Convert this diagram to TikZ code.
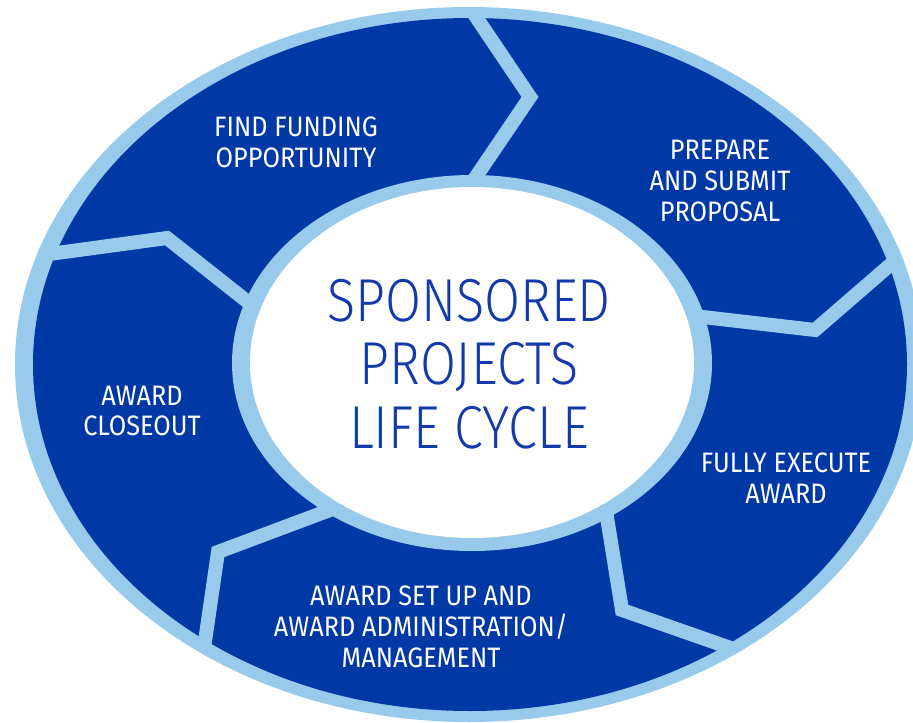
\documentclass[tikz,border=0pt]{standalone}
\usepackage{fontspec}
\setmainfont{Fira Sans}[FakeStretch=0.9]
\newfontfamily\titlefont{Fira Sans Light}[FakeStretch=0.86]
\usepackage{tikz}

\definecolor{ringblue}{RGB}{0,56,166}
\definecolor{edgeblue}{RGB}{152,202,236}
\definecolor{titleblue}{RGB}{18,58,170}

\tikzset{
  stagelabel/.style={text=white, align=center, font=\fontsize{16}{17.6}\selectfont},
  divider/.style={draw=edgeblue, line width=0.28cm},
}

\begin{document}
\begin{tikzpicture}[x=0.02cm, y=-0.02cm]
\useasboundingbox (0,0) rectangle (913,723);

% outer ring
\fill[edgeblue] (469,364.5) ellipse [x radius=454, y radius=357.5];
\fill[ringblue] (470,364.5) ellipse [x radius=437, y radius=346.5];

% chevron dividers
\begin{scope}
\clip (469,364.5) ellipse [x radius=454, y radius=357.5];
\draw[divider] (467,190) -- (530,97) -- (468,5);
\draw[divider] (690,315.5) -- (815,330) -- (905,252);
\draw[divider] (605,505) -- (622,610) -- (745,653);
\draw[divider] (338,507) -- (218,552) -- (203,655);
\draw[divider] (40,255.3) -- (167,238) -- (258,310);
\end{scope}

% centre
\fill[edgeblue] (472,363) ellipse [x radius=240, y radius=188];
\fill[white] (472,362.5) ellipse [x radius=222, y radius=175.5];

\node[text=titleblue, align=center, font=\titlefont\fontsize{34.5}{36}\selectfont] (title) at (469,364) {SPONSORED\\PROJECTS\\LIFE CYCLE};

\node[stagelabel] (find) at (296,142) {FIND FUNDING\\OPPORTUNITY};
\node[stagelabel] (prepare) at (720,181) {PREPARE\\AND SUBMIT\\PROPOSAL};
\node[stagelabel] (execute) at (786,478) {FULLY EXECUTE\\AWARD};
\node[stagelabel] (setup) at (421,627) {AWARD SET UP AND\\AWARD ADMINISTRATION/\\MANAGEMENT};
\node[stagelabel] (closeout) at (142,411) {AWARD\\CLOSEOUT};
\end{tikzpicture}
\end{document}
